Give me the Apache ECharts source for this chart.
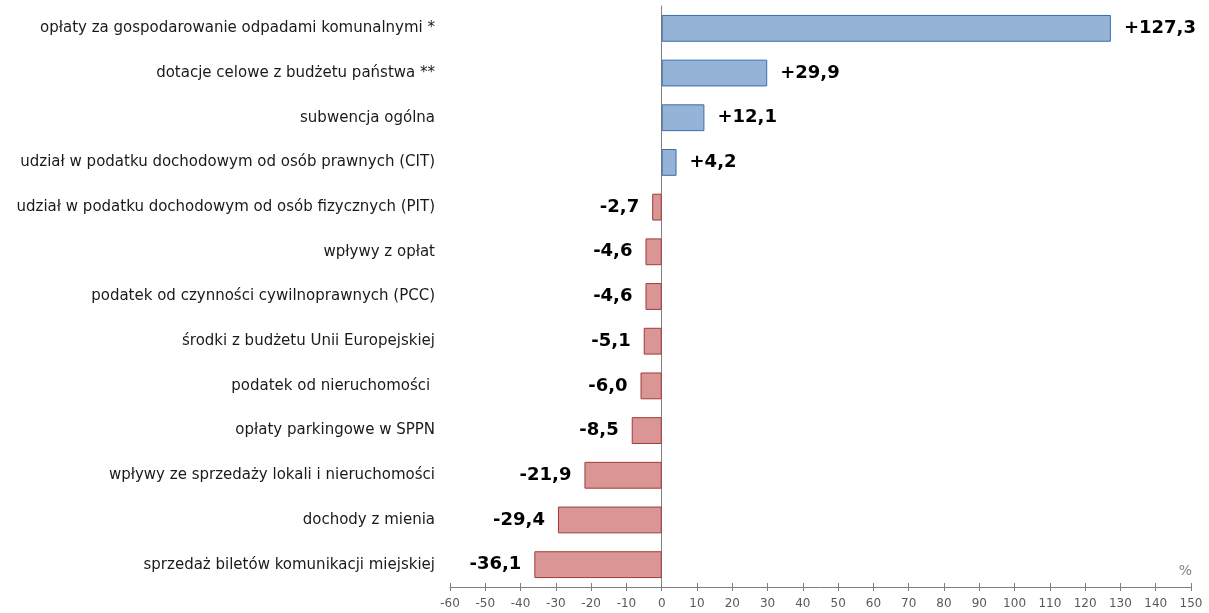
<!DOCTYPE html>
<html>
<head>
<meta charset="utf-8">
<script src="https://cdn.jsdelivr.net/npm/echarts@6/dist/echarts.min.js"></script>
<style>
  html, body { margin: 0; padding: 0; background: #fff; }
  #chart { width: 1209px; height: 613px; }
</style>
</head>
<body>
<div id="chart"></div>
<script>
// dane: dynamika dochodów (%)
const categories = [
  'opłaty za gospodarowanie odpadami komunalnymi *',
  'dotacje celowe z budżetu państwa **',
  'subwencja ogólna',
  'udział w podatku dochodowym od osób prawnych (CIT)',
  'udział w podatku dochodowym od osób fizycznych (PIT)',
  'wpływy z opłat',
  'podatek od czynności cywilnoprawnych (PCC)',
  'środki z budżetu Unii Europejskiej',
  'podatek od nieruchomości ',
  'opłaty parkingowe w SPPN',
  'wpływy ze sprzedaży lokali i nieruchomości',
  'dochody z mienia',
  'sprzedaż biletów komunikacji miejskiej'
];
const values = [127.3, 29.9, 12.1, 4.2, -2.7, -4.6, -4.6, -5.1, -6.0, -8.5, -21.9, -29.4, -36.1];
const axisMin = -60, axisMax = 150, axisStep = 10;

const FONT = '"DejaVu Sans", Verdana, sans-serif';
const POS = { fill: '#95b3d7', border: '#3d6ea8' };
const NEG = { fill: '#d99694', border: '#a23b3a' };
const AXIS_GRAY = '#808080';

const fmt = (v) => (v > 0 ? '+' : '') + v.toFixed(1).replace('.', ',');

const chart = echarts.init(document.getElementById('chart'), null, { renderer: 'canvas' });

const xCommon = {
  type: 'value', min: axisMin, max: axisMax, interval: axisStep,
  splitLine: { show: false },
};

chart.setOption({
  animation: false,
  grid: { left: 450, right: 18, top: 6, bottom: 26, containLabel: false },
  xAxis: [
    {
      ...xCommon,
      position: 'bottom',
      axisLine: { show: true, onZero: false, lineStyle: { color: AXIS_GRAY, width: 1 } },
      axisTick: { show: true, length: 4, lineStyle: { color: AXIS_GRAY } },
      axisLabel: { color: '#595959', fontSize: 12, fontFamily: FONT, margin: 11 },
    },
    {
      ...xCommon,
      position: 'bottom',
      axisLine: { show: false, onZero: false },
      axisTick: { show: true, inside: true, length: 4, lineStyle: { color: AXIS_GRAY } },
      axisLabel: { show: false },
    }
  ],
  yAxis: {
    type: 'category', inverse: true, data: categories,
    axisLine: { show: true, onZero: true, lineStyle: { color: AXIS_GRAY, width: 1 } },
    axisTick: { show: false },
    axisLabel: { color: '#1a1a1a', fontSize: 15, fontFamily: FONT, margin: 15 },
  },
  graphic: [{
    type: 'text', right: 17, top: 564,
    style: { text: '%', fill: '#7f7f7f', font: '14px ' + FONT }
  }],
  series: [{
    type: 'bar', barWidth: '60%', xAxisIndex: 0,
    data: values.map((v) => {
      const c = v >= 0 ? POS : NEG;
      return {
        value: v,
        itemStyle: { color: c.fill, borderColor: c.border, borderWidth: 1 },
        label: { position: v >= 0 ? 'right' : 'left' },
      };
    }),
    label: {
      show: true, distance: 13, color: '#000', fontSize: 18, fontWeight: 'bold', fontFamily: FONT,
      formatter: (p) => fmt(p.value),
    },
  }],
});
</script>
</body>
</html>
